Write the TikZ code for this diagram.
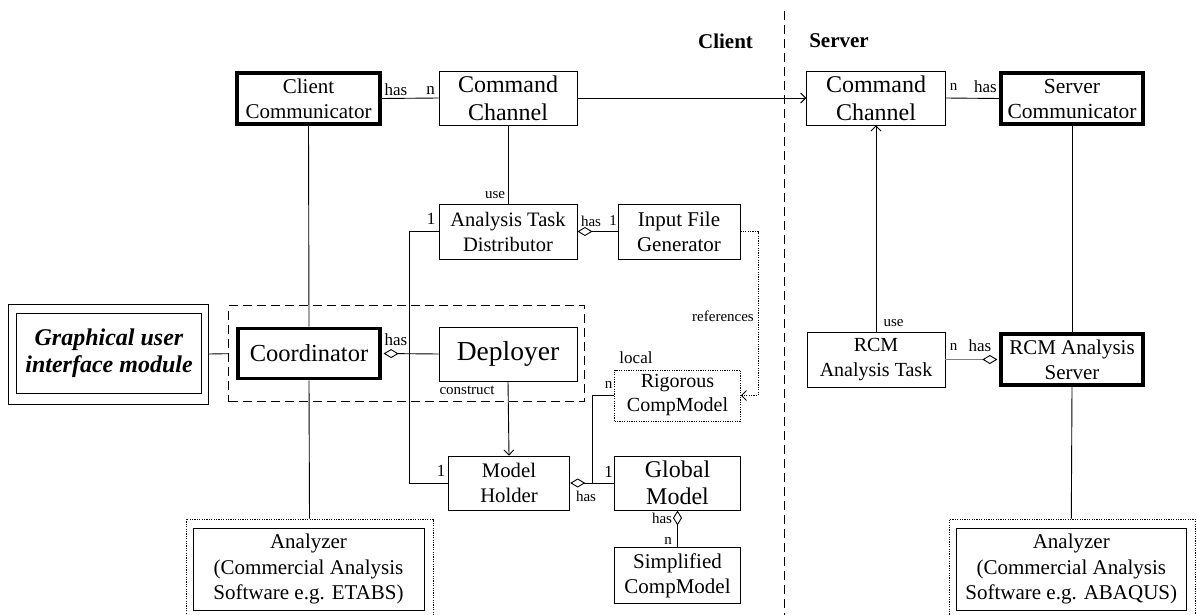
\documentclass[tikz,border=0pt]{standalone}
\usepackage{fontspec}
\setmainfont{Liberation Serif}
\usetikzlibrary{arrows.meta}
\newcommand{\fsz}[2]{\fontsize{#1}{#2}\selectfont}
\begin{document}
\begin{tikzpicture}[x=1pt,y=-1pt,
  box/.style={draw, line width=0.9pt, align=center, inner sep=0pt},
  heavy/.style={box, line width=3.6pt},
  tag/.style={inner sep=0pt, font=\fsz{17}{20}},
  smalltag/.style={inner sep=0pt, font=\fsz{15}{18}},
  wire/.style={line width=0.9pt},
  agg/.style={wire, {Diamond[open,length=15pt,width=9pt]}-},
  nav/.style={wire, -{Straight Barb[length=5pt,width=10pt]}},
  dotline/.style={line width=0.8pt, dash pattern=on 1.2pt off 1.2pt},
  dashline/.style={line width=0.9pt, dash pattern=on 9pt off 5pt},
]
\clip (0,0) rectangle (1197,615);
\fill[white] (0,0) rectangle (1197,615);

% side headings and the client/server divider
\node[inner sep=0pt, font=\fsz{21}{24}\bfseries] (hclient) at (725.5,41) {Client};
\node[inner sep=0pt, font=\fsz{21}{24}\bfseries] (hserver) at (839,41) {Server};
\coordinate (dtop) at (784,11);
\coordinate (dbot) at (784,615);
\draw[dashline] (dtop) -- (dbot);

% client side classes
\node[heavy, minimum width=143pt, minimum height=51.5pt, font=\fsz{21}{25}] (clc) at (308.5,98.5) {Client\\Communicator};
\node[box, minimum width=138pt, minimum height=54pt, font=\fsz{24}{28}] (cmdc) at (508,98) {Command\\Channel};
\node[box, minimum width=138pt, minimum height=55pt, font=\fsz{20.5}{25}] (atd) at (508,231.5) {Analysis Task\\Distributor};
\node[box, minimum width=122pt, minimum height=55pt, font=\fsz{21}{25}] (ifg) at (679,231.5) {Input File\\Generator};
\node[draw, dashline, minimum width=355.5pt, minimum height=96pt, inner sep=0pt] (grp) at (406.5,353.7) {};
\node[heavy, minimum width=142pt, minimum height=50pt, font=\fsz{24.5}{28}] (coord) at (309,353.5) {Coordinator};
\node[box, minimum width=138pt, minimum height=54pt, font=\fsz{27.5}{30}] (dep) at (508,354) {Deployer};
\node[box, minimum width=121.5pt, minimum height=54pt, font=\fsz{20.7}{25}] (mh) at (509,483) {Model\\Holder};
\node[box, dotline, minimum width=126pt, minimum height=51pt, font=\fsz{20}{24}] (rig) at (677.5,395.5) {Rigorous\\CompModel};
\node[box, minimum width=126pt, minimum height=54pt, font=\fsz{24}{27}] (gm) at (677.5,483) {Global\\Model};
\node[box, minimum width=126pt, minimum height=56pt, font=\fsz{21}{25}] (simp) at (677.5,575.8) {Simplified\\CompModel};

% user interface module
\node[box, minimum width=200pt, minimum height=100pt] (guio) at (108.5,354) {};
\node[box, minimum width=185pt, minimum height=80pt, font=\fsz{24}{27}\bfseries\itshape] (guii) at (109,353) {Graphical user\\interface module};

% client analyzer
\node[draw, dotline, minimum width=247pt, minimum height=106pt, inner sep=0pt] (anao) at (309.5,572) {};
\node[box, minimum width=231pt, minimum height=82pt, font=\fsz{21}{25.7}] (anai) at (308.5,569) {Analyzer\\(Commercial Analysis\\Software e.g. ETABS)};

% server side classes
\node[box, minimum width=138.6pt, minimum height=54pt, font=\fsz{24}{28}] (cmds) at (876,98) {Command\\Channel};
\node[heavy, minimum width=142.5pt, minimum height=51.5pt, font=\fsz{21.5}{25}] (scm) at (1072,98.5) {Server\\Communicator};
\node[box, minimum width=138pt, minimum height=55pt, font=\fsz{20}{25}] (rtask) at (876,359.5) {RCM\\Analysis Task};
\node[heavy, minimum width=142pt, minimum height=51.5pt, font=\fsz{21}{25}] (rsrv) at (1072,359.5) {RCM Analysis\\Server};
\node[draw, dotline, minimum width=245.4pt, minimum height=106pt, inner sep=0pt] (anso) at (1072.3,572) {};
\node[box, minimum width=230.5pt, minimum height=82pt, font=\fsz{21}{25.7}] (ansi) at (1071.3,569) {Analyzer\\(Commercial Analysis\\Software e.g. ABAQUS)};

% connectors
\draw[wire] (clc.east) -- (cmdc.west);
\draw[nav] (cmdc.east) -- (cmds.west);
\draw[wire] (cmds.east) -- (scm.west);
\draw[wire] (cmdc.south) -- (atd.north);
\draw[agg] (atd.east) -- (ifg.west);
\draw[wire] (atd.west) -- ++(-29,0) |- (mh.west);
\draw[wire] (clc.south) -- (coord.north);
\draw[wire] (coord.south) -- (anao.north);
\draw[agg, shorten <=1.8pt] (coord.east) -- (dep.west);
\draw[nav] (dep.south) -- (mh.north);
\draw[wire] (guio.east) -- (grp.west);
\draw[agg] (mh.east) -- (gm.west);
\coordinate (jn) at ([xshift=22.5pt]mh.east);
\draw[wire] (rig.west) -| (jn);
\draw[agg] (gm.south) -- (simp.north);
\draw[dotline, -{Straight Barb[length=5pt,width=10pt]}] (ifg.east) -- ++(17.5,0) |- (rig.east);
\draw[nav] (rtask.north) -- (cmds.south);
\draw[wire] (scm.south) -- (rsrv.north);
\draw[wire] (rsrv.south) -- (ansi.north |- anso.north);
\draw[line width=0.6pt, draw=gray, {Diamond[open,length=15pt,width=9pt,color=black,line width=0.9pt]}-, shorten <=1.8pt] (rsrv.west) -- (rtask.east);

% multiplicities and role labels
\node[tag] (l1) at (396,90) {has};
\node[tag] (l2) at (430.5,90) {n};
\node[smalltag] (l3) at (495,195) {use};
\node[tag] (l4) at (431,219) {1};
\node[smalltag] (l5) at (591,221) {has};
\node[smalltag] (l6) at (613,221) {1};
\node[smalltag, anchor=east] (l7) at (754,316) {references};
\node[tag] (l8) at (636,358) {local};
\node[smalltag] (l9) at (608.5,385) {n};
\node[tag] (l10) at (608.5,472) {1};
\node[smalltag] (l11) at (586,496) {has};
\node[tag] (l12) at (441,471) {1};
\node[smalltag] (l13) at (467,390) {construct};
\node[tag] (l14) at (396,340) {has};
\node[smalltag] (l15) at (662,518) {has};
\node[smalltag] (l16) at (668,541) {n};
\node[smalltag] (l17) at (953.5,87) {n};
\node[tag] (l18) at (985.5,87) {has};
\node[smalltag] (l19) at (893.5,323) {use};
\node[smalltag] (l20) at (953.5,347) {n};
\node[tag] (l21) at (980,346) {has};
\end{tikzpicture}
\end{document}
